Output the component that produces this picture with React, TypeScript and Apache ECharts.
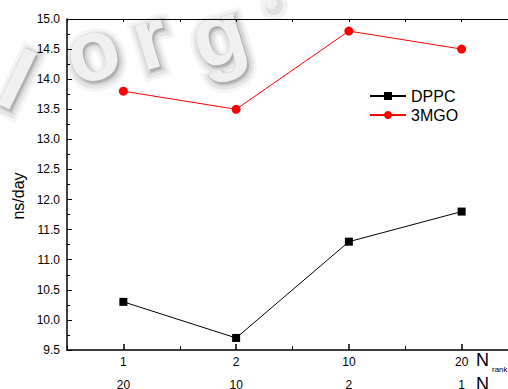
import React, { useEffect, useRef } from "react";
import * as echarts from "echarts";

const nRank = ["1", "2", "10", "20"];
const nT = ["20", "10", "2", "1"];
const dppc = [10.3, 9.7, 11.3, 11.8];
const mgo = [13.8, 13.5, 14.8, 14.5];
const seriesNames = ["DPPC", "3MGO"];
const watermark = [
  { ch: "l", x: 17, y: 80, r: -0.45 },
  { ch: "o", x: 92, y: 50, r: 0.3 },
  { ch: "r", x: 150, y: 38, r: 0.3 },
  { ch: "g", x: 218, y: 34, r: 0.3 },
];

const FONT = "'Liberation Sans', Arial, sans-serif";

function wmLayers(ch: string, x: number, y: number, rot: number) {
  const base = {
    text: ch,
    fontSize: 86,
    fontWeight: "bold",
    fontFamily: FONT,
    align: "center",
    verticalAlign: "middle",
  };
  const layers = [
    { dx: 2, dy: 3, lw: 16, a: 0.04 },
    { dx: 2, dy: 3, lw: 10, a: 0.06 },
    { dx: 2, dy: 2, lw: 5, a: 0.08 },
  ];
  const out: any[] = layers.map((l) => ({
    type: "text",
    x: x + l.dx,
    y: y + l.dy,
    rotation: rot,
    z: -10,
    silent: true,
    style: { ...base, fill: `rgba(0,0,0,${l.a})`, stroke: `rgba(0,0,0,${l.a})`, lineWidth: l.lw },
  }));
  out.push({
    type: "text",
    x,
    y,
    rotation: rot,
    z: -9,
    silent: true,
    style: { ...base, fill: "#f0f0f0" },
  });
  return out;
}

export default function App() {
  const ref = useRef<HTMLDivElement>(null);
  useEffect(() => {
    document.body.style.margin = "0";
    const chart = echarts.init(ref.current!, undefined, { renderer: "svg" });
    const axisLabel = { color: "#000", fontSize: 12, fontFamily: FONT };
    const option: any = {
      animation: false,
      backgroundColor: "#fff",
      grid: { left: 67, top: 19, width: 451, height: 331, containLabel: false, outerBoundsMode: "none" },
      legend: {
        data: seriesNames,
        orient: "vertical",
        left: 369,
        top: 88,
        padding: 0,
        itemWidth: 36,
        itemHeight: 10,
        itemGap: 3,
        textStyle: { fontSize: 16, color: "#000", fontFamily: FONT },
      },
      xAxis: [
        {
          type: "category",
          data: nRank,
          position: "bottom",
          boundaryGap: true,
          axisLine: { show: true, lineStyle: { color: "#000", width: 1.5 } },
          axisTick: { show: true, inside: true, alignWithLabel: true, length: 6, lineStyle: { color: "#000", width: 1.5 } },
          axisLabel: { ...axisLabel, margin: 6 },
          splitLine: { show: false },
        },
        {
          type: "category",
          data: nT,
          position: "bottom",
          offset: 23,
          boundaryGap: true,
          axisLine: { show: false },
          axisTick: { show: false },
          axisLabel: { ...axisLabel, margin: 6 },
          splitLine: { show: false },
        },
        {
          type: "category",
          data: nRank,
          position: "bottom",
          boundaryGap: true,
          axisLine: { show: false },
          axisTick: { show: true, inside: true, alignWithLabel: false, length: 4, lineStyle: { color: "#000", width: 1 } },
          axisLabel: { show: false },
          splitLine: { show: false },
        },
        {
          type: "category",
          data: nRank,
          position: "top",
          boundaryGap: true,
          axisLine: { show: true, lineStyle: { color: "#000", width: 1 } },
          axisTick: { show: true, inside: true, alignWithLabel: true, length: 3, lineStyle: { color: "#000", width: 1 } },
          axisLabel: { show: false },
          splitLine: { show: false },
        },
        {
          type: "category",
          data: nRank,
          position: "top",
          boundaryGap: true,
          axisLine: { show: false },
          axisTick: { show: true, inside: true, alignWithLabel: false, length: 3, lineStyle: { color: "#000", width: 1 } },
          axisLabel: { show: false },
          splitLine: { show: false },
        },
      ],
      yAxis: {
        type: "value",
        min: 9.5,
        max: 15,
        interval: 0.5,
        axisLine: { show: true, lineStyle: { color: "#000", width: 1.5 } },
        axisTick: { show: true, inside: true, length: 5, lineStyle: { color: "#000", width: 1 } },
        minorTick: { show: true, splitNumber: 2, length: 3, lineStyle: { color: "#000", width: 1 } },
        axisLabel: { ...axisLabel, margin: 7, formatter: (v: number) => v.toFixed(1) },
        splitLine: { show: false },
        minorSplitLine: { show: false },
      },
      series: [
        {
          name: seriesNames[0],
          type: "line",
          data: dppc,
          xAxisIndex: 0,
          symbol: "rect",
          symbolSize: 8,
          itemStyle: { color: "#000" },
          lineStyle: { color: "#000", width: 1 },
          z: 5,
        },
        {
          name: seriesNames[1],
          type: "line",
          data: mgo,
          xAxisIndex: 0,
          symbol: "circle",
          symbolSize: 9,
          itemStyle: { color: "#ff0000" },
          lineStyle: { color: "#ff0000", width: 1 },
          z: 5,
        },
      ],
      graphic: [
        ...watermark.flatMap((w) => wmLayers(w.ch, w.x, w.y, w.r)),
        { type: "circle", z: -10, silent: true, shape: { cx: 274, cy: 6, r: 14 }, style: { fill: "rgba(0,0,0,0.05)" } },
        { type: "circle", z: -10, silent: true, shape: { cx: 274, cy: 6, r: 9 }, style: { fill: "rgba(0,0,0,0.07)" } },
        { type: "circle", z: -9, silent: true, shape: { cx: 271, cy: 3, r: 6 }, style: { fill: "#f0f0f0" } },
        {
          type: "text",
          x: 18,
          y: 196,
          rotation: Math.PI / 2,
          style: { text: "ns/day", fontSize: 16, fontFamily: FONT, fill: "#000", align: "center", verticalAlign: "middle" },
        },
        {
          type: "text",
          x: 476,
          y: 360,
          style: { text: "N", fontSize: 18, fontFamily: FONT, fill: "#000", align: "left", verticalAlign: "middle" },
        },
        {
          type: "text",
          x: 492,
          y: 369,
          style: { text: "rank", fontSize: 8, fontFamily: FONT, fill: "#000", align: "left", verticalAlign: "middle" },
        },
        {
          type: "text",
          x: 476,
          y: 384,
          style: { text: "N", fontSize: 18, fontFamily: FONT, fill: "#000", align: "left", verticalAlign: "middle" },
        },
        {
          type: "text",
          x: 492,
          y: 393,
          style: { text: "t", fontSize: 8, fontFamily: FONT, fill: "#000", align: "left", verticalAlign: "middle" },
        },
      ],
    };
    chart.setOption(option);
    return () => chart.dispose();
  }, []);
  return <div ref={ref} style={{ position: "fixed", left: 0, top: 0, width: 508, height: 389 }} />;
}
